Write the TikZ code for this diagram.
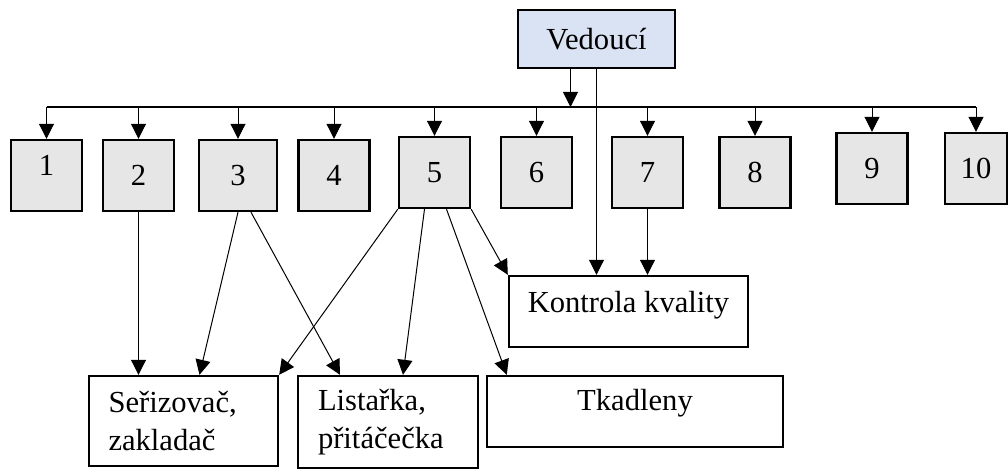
\documentclass[tikz,border=0pt]{standalone}
\usepackage{fontspec}
\setmainfont{Liberation Serif}
\usetikzlibrary{arrows.meta}
\definecolor{vedblue}{HTML}{DAE3F3}
\definecolor{boxgray}{HTML}{E7E6E6}

\begin{document}
\begin{tikzpicture}[x=0.5pt,y=-0.5pt,
	every node/.style={font=\fontsize{15.3}{19}\selectfont},
	numbox/.style={draw, line width=1.2pt, fill=boxgray,
		minimum width=35.5pt, minimum height=35.5pt, inner sep=0pt},
	txtbox/.style={draw, line width=1.2pt, fill=white, inner sep=0pt},
	arr/.style={-{Triangle[length=7.5pt,width=7.5pt]}, line width=0.5pt}]

\useasboundingbox (0,0) rectangle (1008,470);

% Vedouci
\node [txtbox,
	fill=vedblue,
	minimum width=78.5pt,
	minimum height=29pt] (ved) at (596.5,39) {Vedoucí};

% Numbered boxes
\node [numbox] (b1) at (46.5,175.5) {\raisebox{5pt}[\height][\depth]{1}\hspace{9pt}};
\node [numbox] (b2) at (138.5,175.5) {2};
\node [numbox, minimum width=39pt] (b3) at (238,175.5) {3};
\node [numbox] (b4) at (334,175.5) {4};
\node [numbox] (b5) at (434.5,172.5) {5};
\node [numbox] (b6) at (536.5,172.5) {6};
\node [numbox] (b7) at (647.5,172.5) {7};
\node [numbox] (b8) at (755,172.5) {8};
\node [numbox] (b9) at (872,168.5) {9};
\node [numbox, minimum width=31pt] (b10) at (976,168.5) {10};

% Bottom boxes
\node [txtbox,
	minimum width=119.5pt,
	minimum height=35.5pt] (kk) at (628.5,311.5) {\raisebox{3pt}[\height][\depth]{Kontrola kvality}};
\node [txtbox,
	minimum width=94.5pt,
	minimum height=45pt,
	inner xsep=9.5pt,
	text width=75pt,
	align=left] (sz) at (183.5,421) {Seřizovač,\\zakladač};
\node [txtbox,
	minimum width=90pt,
	minimum height=46pt,
	inner xsep=10pt,
	text width=70pt,
	align=left] (lp) at (388,422) {Listařka,\\přitáčečka};
\node [txtbox,
	minimum width=148pt,
	minimum height=35.5pt] (tk) at (635,411.5) {\raisebox{4pt}[\height][\depth]{Tkadleny}\hspace{10pt}};

% Bus
\coordinate (bus) at (0,107);
\draw [line width=1.1pt] (b1.north |- bus) -- (b10.north |- bus);
\foreach \i in {1,...,10}
	\draw [arr] (b\i.north |- bus) -- (b\i.north);
\draw [arr] ([xshift=-13pt]ved.south) -- ([xshift=-13pt]ved.south |- bus);

% Kontrola kvality
\draw [arr] (ved.south) -- (ved.south |- kk.north);
\draw [arr] (b7.south) -- (b7.south |- kk.north);
\draw [arr] (b5.south east) -- (kk.north west);

% Lower links
\draw [arr] (b2.south) -- (b2.south |- sz.north);
\draw [arr] (b3.south) -- ([xshift=8pt]sz.north);
\draw [arr] ([xshift=6.5pt]b3.south) -- ([xshift=-24pt]lp.north);
\draw [arr] (b5.south west) -- (sz.north east);
\draw [arr] ([xshift=-5pt]b5.south) -- ([xshift=7.5pt]lp.north);
\draw [arr] ([xshift=6pt]b5.south) -- ([xshift=10.5pt]tk.north west);

\end{tikzpicture}
\end{document}
